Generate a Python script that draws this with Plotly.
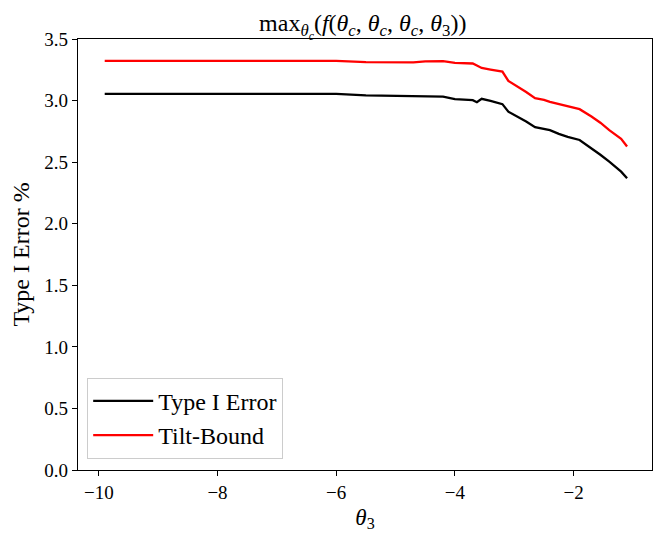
import plotly.graph_objects as go

theta3 = [-9.9, -9.0, -8.0, -7.0, -6.5, -6.0, -5.5, -5.0, -4.7, -4.5, -4.2, -4.0,
          -3.8, -3.7, -3.63, -3.55, -3.4, -3.2, -3.1, -3.0, -2.9, -2.8, -2.65,
          -2.5, -2.4, -2.25, -2.1, -1.9, -1.7, -1.55, -1.4, -1.2, -1.1]

type1_error = [3.055, 3.055, 3.055, 3.054, 3.053, 3.054, 3.042, 3.038, 3.033, 3.036,
               3.032, 3.012, 3.005, 3.003, 2.987, 3.014, 2.997, 2.971, 2.91, 2.885,
               2.86, 2.83, 2.784, 2.77, 2.76, 2.73, 2.705, 2.68, 2.613, 2.56, 2.504,
               2.423, 2.369]

tilt_bound = [3.322, 3.322, 3.322, 3.321, 3.321, 3.322, 3.312, 3.310, 3.310, 3.318,
              3.320, 3.306, 3.302, 3.301, 3.285, 3.265, 3.252, 3.236, 3.16, 3.13,
              3.103, 3.07, 3.02, 3.006, 2.99, 2.973, 2.955, 2.93, 2.87, 2.82, 2.76,
              2.69, 2.627]

x_ticks = [-10, -8, -6, -4, -2]
y_ticks = [0.0, 0.5, 1.0, 1.5, 2.0, 2.5, 3.0, 3.5]

FONT = "Liberation Serif"

fig = go.Figure()
fig.add_trace(go.Scatter(x=theta3, y=type1_error, mode="lines", name="Type I Error",
                         line=dict(color="black", width=2.3)))
fig.add_trace(go.Scatter(x=theta3, y=tilt_bound, mode="lines", name="Tilt-Bound",
                         line=dict(color="red", width=2.3)))

axis_common = dict(showline=True, linecolor="black", linewidth=1.2, mirror=True,
                   ticks="outside", ticklen=5, tickwidth=1.2, tickcolor="black",
                   showgrid=False, zeroline=False,
                   tickfont=dict(family=FONT, size=19, color="black"))

# page body adds an 8px offset, so the figure is sized to the remaining area
fig.update_layout(
    width=657, height=529,
    margin=dict(l=66, r=13, t=31, b=67),
    paper_bgcolor="white", plot_bgcolor="white",
    font=dict(family=FONT, color="black"),
    title=dict(text="max<sub><i>θ<sub>c</sub></i></sub>(<i>f</i>(<i>θ<sub>c</sub></i>, <i>θ<sub>c</sub></i>, <i>θ<sub>c</sub></i>, <i>θ</i><sub>3</sub>))",
               x=0.54, xanchor="center", y=0.972, yanchor="middle",
               font=dict(family=FONT, size=24, color="black")),
    xaxis=dict(range=[-10.35, -0.68], tickvals=x_ticks,
               title=dict(text="<i>θ</i><sub>3</sub>", font=dict(family=FONT, size=23), standoff=6),
               **axis_common),
    yaxis=dict(range=[0, 3.5], tickvals=y_ticks, tickformat=".1f",
               title=dict(text="Type I Error %", font=dict(family=FONT, size=24), standoff=8),
               **axis_common),
    legend=dict(x=0.016, y=0.026, xanchor="left", yanchor="bottom",
                bgcolor="white", bordercolor="#cccccc", borderwidth=1,
                font=dict(family=FONT, size=24, color="black"),
                itemwidth=60, tracegroupgap=0),
    showlegend=True,
)

fig.write_html("out.html")
